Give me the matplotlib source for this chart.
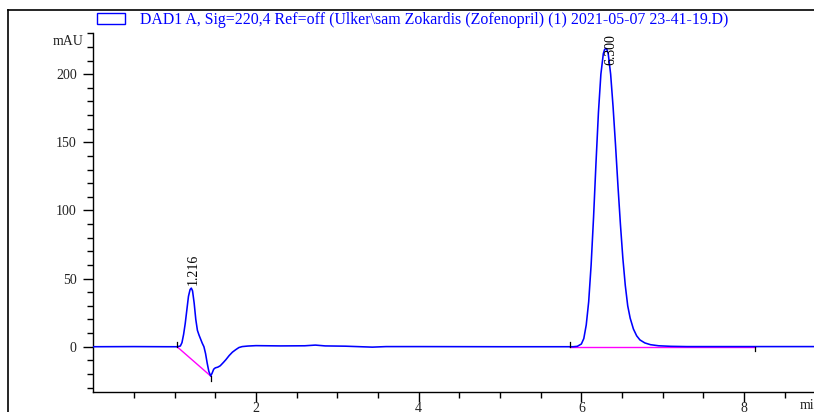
import matplotlib
matplotlib.use("Agg")
import matplotlib.pyplot as plt
from matplotlib.patches import Rectangle
from matplotlib.lines import Line2D

# ---- data ----
time_min = [0.0, 0.5, 0.9, 1.03, 1.07, 1.09, 1.11, 1.13, 1.15, 1.17, 1.19, 1.205,
            1.22, 1.24, 1.26, 1.28, 1.30, 1.32, 1.34, 1.36, 1.38, 1.40, 1.42, 1.443,
            1.46, 1.48, 1.50, 1.53, 1.56, 1.60, 1.63, 1.67, 1.71, 1.75, 1.79, 1.83,
            1.90, 2.0, 2.3, 2.6, 2.73, 2.85, 3.1, 3.43, 3.6, 4.0, 5.0, 5.5, 5.90,
            5.95, 6.00, 6.03, 6.06, 6.09, 6.12, 6.15, 6.18, 6.21, 6.24, 6.27, 6.285,
            6.30, 6.315, 6.33, 6.36, 6.39, 6.42, 6.45, 6.48, 6.51, 6.54, 6.57, 6.60,
            6.64, 6.68, 6.72, 6.78, 6.85, 6.95, 7.1, 7.3, 8.0, 8.86]
signal_mau = [0.0, 0.1, 0.0, 0.0, 0.5, 3, 9, 17, 27, 37, 42, 43,
              41, 32, 20, 12, 8.5, 5.5, 2.5, 0.0, -5, -12, -18, -21.5,
              -19.5, -16.5, -15.5, -15, -14, -11.5, -9.5, -6.5, -4, -2.2, -0.6, 0.1,
              0.5, 0.8, 0.6, 0.7, 1.2, 0.6, 0.4, -0.3, 0.1, 0.1, 0.0, 0.0, 0.0,
              0.3, 2, 6, 16, 33, 60, 95, 135, 172, 200, 215, 218,
              219, 218, 215, 200, 176, 148, 118, 90, 65, 45, 30, 21,
              13, 8, 5, 2.8, 1.5, 0.7, 0.3, 0.1, 0.1, 0.1]

peak_label_x = [1.228, 6.36]
peak_labels = ["1.216", "6.300"]
peak_label_y = [45.5, 207]

# integration baselines
baseline_t = [[1.03, 1.443], [5.86, 8.13]]
baseline_v = [[0.0, -21.5], [0.0, 0.0]]

title = "DAD1 A, Sig=220,4 Ref=off (Ulker\\sam Zokardis (Zofenopril) (1) 2021-05-07 23-41-19.D)"

# ---- figure ----
W, H = 814, 412
fig = plt.figure(figsize=(W / 100, H / 100), dpi=100)
serif = ["Liberation Serif", "DejaVu Serif"]

left = 93.3 / W
bottom = 1 - 391.7 / H
top = 1 - 33.3 / H
ax = fig.add_axes([left, bottom, 1 - left, top - bottom])

ax.plot(time_min, signal_mau, color="#0000ff", lw=1.15, zorder=3)
for bt, bv in zip(baseline_t, baseline_v):
    ax.plot(bt, bv, color="#ff00ff", lw=1.0, zorder=2)
    ax.plot([bt[0], bt[0]], [bv[0], bv[0] + 3.5], color="black", lw=0.9, zorder=4)
    ax.plot([bt[1], bt[1]], [bv[1], bv[1] - 3.5], color="black", lw=0.9, zorder=4)

for t, lab, yl in zip(peak_label_x, peak_labels, peak_label_y):
    ax.text(t, yl, lab, rotation=90, ha="center", va="bottom",
            fontsize=10, family=serif, color="black")

ax.set_xlim(0, 8.86)
ax.set_ylim(-33, 230)
for s in ["top", "right"]:
    ax.spines[s].set_visible(False)
ax.spines["left"].set_linewidth(1.0)
ax.spines["bottom"].set_linewidth(1.0)

ax.set_xticks([2, 4, 6, 8])
ax.set_xticks([0.5, 1, 1.5, 2.5, 3, 3.5, 4.5, 5, 5.5, 6.5, 7, 7.5, 8.5], minor=True)
ax.set_yticks([0, 50, 100, 150, 200])
ax.set_yticks([-30, -20, -10, 10, 20, 30, 40, 60, 70, 80, 90, 110, 120, 130, 140,
               160, 170, 180, 190, 210, 220, 230], minor=True)
ax.tick_params(axis="both", which="major", length=7, width=1.0, direction="out",
               labelsize=10, colors="black")
ax.tick_params(axis="y", which="major", pad=5)
ax.tick_params(axis="x", which="major", pad=0.5)
ax.tick_params(axis="both", which="minor", length=4, width=1.0, direction="out")
for lab in ax.get_xticklabels() + ax.get_yticklabels():
    lab.set_family(serif)
    lab.set_color("#222222")

ax.text(-0.12, 224, "mAU", ha="right", va="center", fontsize=10, family=serif,
        color="#222222")
ax.text(8.69, -33 - 7.5 / 1.362, "min", ha="left", va="top", fontsize=10,
        family=serif, color="#222222", clip_on=False)

# outer frame
fig.add_artist(Line2D([8 / W, 1], [1 - 10 / H, 1 - 10 / H], color="black", lw=1.2,
                      transform=fig.transFigure))
fig.add_artist(Line2D([8 / W, 8 / W], [0, 1 - 10 / H], color="black", lw=1.2,
                      transform=fig.transFigure))

# legend box and title
fig.add_artist(Rectangle((97 / W, 1 - 24 / H), 28 / W, 11 / H, fill=False,
                         edgecolor="#0000ff", lw=1.0, transform=fig.transFigure))
fig.text(140 / W, 1 - 20 / H, title, ha="left", va="center", fontsize=11.4,
         family=serif, color="#0000ff")

fig.savefig("out.png", dpi=100)
